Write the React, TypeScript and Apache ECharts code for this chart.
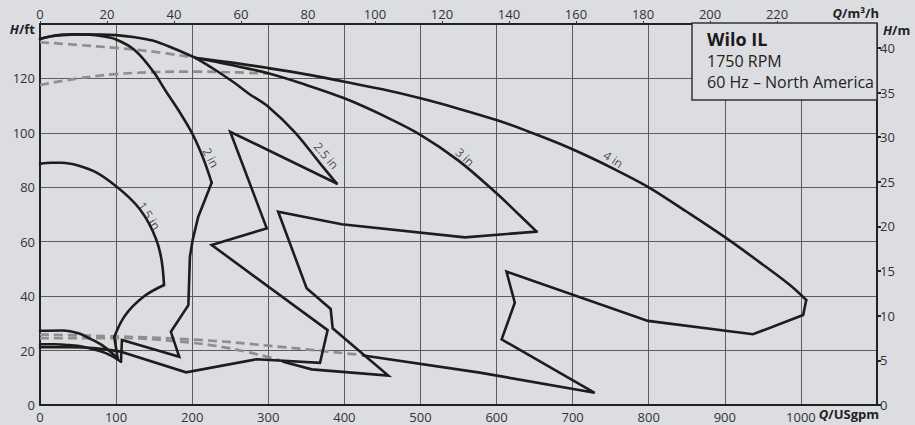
import React, { useEffect, useRef } from "react";
import * as echarts from "echarts";

// unit conversions for the secondary axes
const GPM_PER_M3H = 4.40287;
const FT_PER_M = 3.28084;
const Q_MAX_GPM = 1100;
const H_MAX_FT = 140;

// [Q in USgpm, H in ft]
const headCommon = [[0, 134.5], [15, 135.5], [30, 136], [50, 136.2], [65, 136.1]];
// shared envelope of 2.5 / 3 / 4 in up to the junction
const envelope = [[80, 136.1], [100, 135.9], [125, 135.1], [148, 133.9], [175, 131.1], [205, 127.5]];

// 1.5 in
const arc15 = [
  [0, 88.6], [15, 89], [28.5, 89], [50, 88], [75, 85.3], [100, 80.4], [118, 76], [131, 72],
  [143, 66.8], [153, 60.6], [158, 55.8], [161, 50.8], [163, 44.1],
];
const back15 = [[163, 44.1], [136, 39.8], [112, 33], [97.6, 25.1]];
const zig15 = [[97.6, 25.1], [102, 17.2]];
const low15 = [[102, 17.2], [82.4, 21.8], [64.8, 24.5], [51.6, 26.3], [29.8, 27.4], [0, 27.3]];

// 2 in
const arc2 = [
  [80, 135.6], [100, 134.3], [125, 130.3], [149, 122.5], [165, 115.5], [182, 108.3], [200, 99.8],
  [214, 91], [225.6, 81.7],
];
const zig2 = [
  [225.6, 81.7], [208, 69.2], [200.6, 60.6], [197, 54.5], [195, 36.7], [172, 26.9], [183, 17.7],
  [107.7, 23.9], [106.4, 15.9],
];
const low2 = [[106.4, 15.9], [90, 18.6], [73.6, 20.2], [55, 21.5], [38.5, 22], [20, 22.3], [0, 22.3]];

// 2.5 in
const arc25 = [
  [205, 127.5], [230, 123.2], [255, 118.5], [275, 114.3], [300, 109.6], [335, 100.2], [368, 88.8], [390, 81.4],
];
const zig25 = [
  [390, 81.4], [250, 100.4], [298, 64.9], [225.6, 58.8], [378, 27.5], [368, 15.5], [284.7, 16.8],
  [192, 12], [106.4, 19.6],
];
const low25 = [[106.4, 19.6], [70, 20.9], [38.5, 21.2], [0, 21.2]];

// 3 in
const arc3 = [
  [205, 127.5], [250, 125], [300, 121.9], [350, 117.6], [400, 112.7], [450, 106.5], [500, 99.3],
  [550, 89.8], [600, 77.8], [630, 69.8], [652.7, 63.7],
];
const zig3 = [
  [652.7, 63.7], [558.5, 61.6], [396.4, 66.4], [313, 71], [350.4, 42.9], [382, 35.3], [384.6, 28.2],
  [457.7, 10.8], [357, 13.1], [319.7, 15.9],
];

// 4 in
const arc4 = [
  [205, 127.5], [250, 125.9], [300, 123.8], [350, 121.5], [400, 118.8], [450, 116], [500, 112.7],
  [550, 108.9], [600, 104.7], [640, 100.7], [683, 96], [720, 91.4], [756, 86.5], [800, 80], [850, 71],
  [902, 61.3], [945, 52.6], [985.5, 44.1], [1007, 38.6],
];
const zig4 = [
  [1007, 38.6], [1003, 33.1], [937, 26], [799, 30.9], [613, 49], [624, 37.6], [606.7, 24.1],
  [729, 4.5], [578, 11.9], [425, 18.2],
];

// grey dashed curves
const dashTopA = [[0, 133.3], [50, 132.3], [100, 131.2], [150, 129.8], [200, 127.8]];
const dashTopB = [[0, 117.6], [50, 120], [100, 121.6], [150, 122.3], [200, 122.5], [260, 122.2], [301, 121.8]];
const dashLowA = [[0, 25.9], [100, 25.2], [210, 23.9], [300, 21.8], [425, 18.3]];
const dashLowB = [[0, 24.6], [100, 24.6], [180, 23.4], [250, 20.8], [315, 16.5]];

// curve labels: text and anchor [Q gpm, H ft]
const labelTexts = ["1.5 in", "2 in", "2.5 in", "3 in", "4 in"];
const labelAnchors = [[143.5, 69.5], [224.5, 90.9], [376.3, 91.6], [558.5, 91.1], [753.4, 90.3]];
const labelAngles = [-57, -62, -50, -43, -33];

const xTicksGpm = [0, 100, 200, 300, 400, 500, 600, 700, 800, 900, 1000];
const yTicksFt = [0, 20, 40, 60, 80, 100, 120];
const yTicksM = [0, 5, 10, 15, 20, 25, 30, 35, 40];
const xTicksM3h = [0, 20, 40, 60, 80, 100, 120, 140, 160, 180, 200, 220];

const infoLines = ["Wilo IL", "1750 RPM", "60 Hz – North America"];

const FONT = "Open Sans";
const BG = "#dcdde0";
const INK = "#1d1d1d";

export default function App() {
  const ref = useRef<HTMLDivElement>(null);

  useEffect(() => {
    document.body.style.margin = "0";
    if (!ref.current) return;
    const chart = echarts.init(ref.current, undefined, { renderer: "svg" });

    const black = (name: string, data: number[][], smooth: number | boolean) => ({
      type: "line",
      name,
      data,
      smooth,
      showSymbol: false,
      symbol: "none",
      silent: true,
      z: 3,
      lineStyle: { color: INK, width: 2.6, join: "miter", cap: "round" },
    });
    const dashed = (name: string, data: number[][]) => ({
      type: "line",
      name,
      data,
      smooth: 0.4,
      showSymbol: false,
      symbol: "none",
      silent: true,
      z: 2,
      lineStyle: { color: "#8f8f8f", width: 2.7, type: [9, 5] },
    });

    const axisLine = { show: true, onZero: false, lineStyle: { color: "#222", width: 2 } };
    const lbl = { color: "#333", fontSize: 13, fontFamily: FONT, formatter: (v: number) => String(v) };
    const S = 0.35;

    chart.setOption({
      animation: false,
      backgroundColor: BG,
      textStyle: { fontFamily: FONT },
      grid: { left: 40, right: 38, top: 24, bottom: 20, containLabel: false },
      xAxis: [
        {
          type: "value",
          position: "bottom",
          min: 0,
          max: Q_MAX_GPM,
          interval: 100,
          axisLine,
          axisTick: { show: false },
          axisLabel: { ...lbl, margin: 5, customValues: xTicksGpm },
          splitLine: { show: true, lineStyle: { color: "#5c5c5c", width: 1 } },
        },
        {
          type: "value",
          position: "top",
          min: 0,
          max: Q_MAX_GPM / GPM_PER_M3H,
          interval: 20,
          axisLine,
          axisTick: { show: true, length: 3, customValues: xTicksM3h, lineStyle: { color: "#333", width: 1 } },
          axisLabel: { ...lbl, margin: 4, customValues: xTicksM3h },
          splitLine: { show: false },
        },
      ],
      yAxis: [
        {
          type: "value",
          position: "left",
          min: 0,
          max: H_MAX_FT,
          interval: 20,
          axisLine,
          axisTick: { show: false },
          axisLabel: { ...lbl, margin: 5, customValues: yTicksFt },
          splitLine: { show: true, lineStyle: { color: "#5c5c5c", width: 1 } },
        },
        {
          type: "value",
          position: "right",
          min: 0,
          max: H_MAX_FT / FT_PER_M,
          interval: 5,
          axisLine,
          axisTick: { show: true, length: 4, inside: false, customValues: yTicksM, lineStyle: { color: "#222", width: 2 } },
          axisLabel: { ...lbl, margin: 3, customValues: yTicksM },
          splitLine: { show: false },
        },
      ],
      series: [
        dashed("dA", dashTopA),
        dashed("dB", dashTopB),
        dashed("dC", dashLowA),
        dashed("dD", dashLowB),
        black("1.5 in arc", arc15, S),
        black("1.5 in back", back15, S),
        black("1.5 in zig", zig15, false),
        black("1.5 in low", low15, S),
        black("2 in arc", [...headCommon, ...arc2], S),
        black("2 in zig", zig2, false),
        black("2 in low", low2, S),
        black("envelope", [...headCommon, ...envelope], S),
        black("2.5 in arc", arc25, S),
        black("2.5 in zig", zig25, false),
        black("2.5 in low", low25, S),
        black("3 in arc", arc3, S),
        black("3 in zig", zig3, false),
        black("4 in arc", arc4, S),
        black("4 in zig", zig4, false),
        {
          type: "scatter",
          symbolSize: 1,
          silent: true,
          z: 6,
          itemStyle: { color: "transparent" },
          label: { show: true, position: "inside", formatter: "{b}", color: "#222", fontSize: 12, fontFamily: FONT },
          data: labelTexts.map((t, i) => ({
            name: t,
            value: labelAnchors[i],
            label: { rotate: labelAngles[i] },
          })),
        },
      ],
      graphic: [
        {
          type: "rect",
          z: 100,
          shape: { x: 692, y: 23, width: 185, height: 77 },
          style: { fill: BG, stroke: "#333", lineWidth: 1.5 },
        },
        {
          type: "text",
          z: 101,
          x: 707,
          y: 39,
          style: { text: infoLines[0], fontFamily: FONT, fontSize: 18, fontWeight: "bold", fill: "#1a1a1a", verticalAlign: "middle" },
        },
        {
          type: "text",
          z: 101,
          x: 707,
          y: 61,
          style: { text: infoLines[1], fontFamily: FONT, fontSize: 16, fill: "#222", verticalAlign: "middle" },
        },
        {
          type: "text",
          z: 101,
          x: 707,
          y: 82,
          style: { text: infoLines[2], fontFamily: FONT, fontSize: 16, fill: "#222", verticalAlign: "middle" },
        },
        {
          type: "text",
          z: 101,
          x: 35,
          y: 29,
          style: {
            text: "{i|H}/ft", align: "right", verticalAlign: "middle", fontFamily: FONT, fontSize: 13, fontWeight: "bold", fill: "#222",
            rich: { i: { fontStyle: "italic", fontWeight: "bold", fontSize: 13, fontFamily: FONT, fill: "#222" } },
          },
        },
        {
          type: "text",
          z: 101,
          x: 883,
          y: 30,
          style: {
            text: "{i|H}/m", align: "left", verticalAlign: "middle", fontFamily: FONT, fontSize: 13, fontWeight: "bold", fill: "#222",
            rich: { i: { fontStyle: "italic", fontWeight: "bold", fontSize: 13, fontFamily: FONT, fill: "#222" } },
          },
        },
        {
          type: "text",
          z: 101,
          x: 879,
          y: 13,
          style: {
            text: "{i|Q}/m³/h", align: "right", verticalAlign: "middle", fontFamily: FONT, fontSize: 13, fontWeight: "bold", fill: "#222",
            rich: { i: { fontStyle: "italic", fontWeight: "bold", fontSize: 13, fontFamily: FONT, fill: "#222" } },
          },
        },
        {
          type: "text",
          z: 101,
          x: 879,
          y: 414,
          style: {
            text: "{i|Q}/USgpm", align: "right", verticalAlign: "middle", fontFamily: FONT, fontSize: 13, fontWeight: "bold", fill: "#222",
            rich: { i: { fontStyle: "italic", fontWeight: "bold", fontSize: 13, fontFamily: FONT, fill: "#222" } },
          },
        },
      ],
    });

    return () => chart.dispose();
  }, []);

  return <div ref={ref} style={{ width: 915, height: 425 }} />;
}
